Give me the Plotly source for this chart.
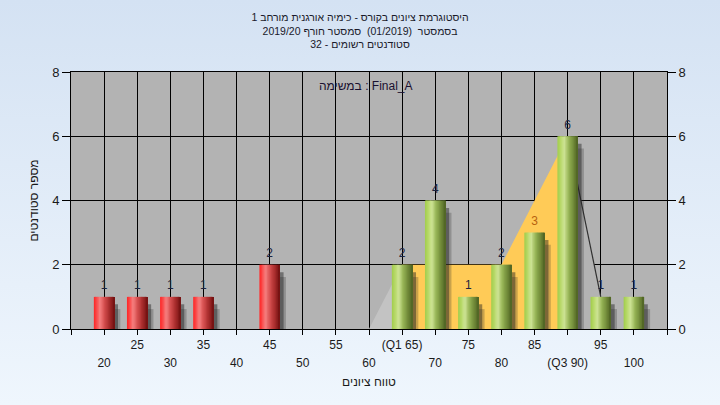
import base64
import plotly.graph_objects as go

# ---------------- data ----------------
categories = [20, 25, 30, 35, 40, 45, 50, 55, 60, 65, 70, 75, 80, 85, 90, 95, 100]
counts = [1, 1, 1, 1, 0, 2, 0, 0, 0, 2, 4, 1, 2, 3, 6, 1, 1]
pass_grade = 55
q1 = 65
q3 = 90
curve_x = [60, 65, 70, 75, 80, 85, 90, 95]
curve_y = [0, 2, 2, 2, 2, 4, 6, 1]
upper_ticks = [25, 35, 45, 55, 65, 75, 85, 95]
lower_ticks = [20, 30, 40, 50, 60, 70, 80, 90, 100]
y_ticks = [0, 2, 4, 6, 8]
title_lines = [
    "היסטוגרמת ציונים בקורס - כימיה אורגנית מורחב 1",
    "בסמסטר  (01/2019)  סמסטר חורף 2019/20",
    "סטודנטים רשומים - 32",
]
task_label = "במשימה : Final_A"
x_title = "טווח ציונים"
y_title = "מספר סטודנטים"

# ---------------- style ----------------
FONT = "Liberation Sans, Arial, sans-serif"
W, H = 720, 405
ML, MR, MT, MB = 71, 53, 72, 76
BAR_W = 3.1
N_STRIPS = 16
red_scale = [(0.0, (255, 35, 35)), (0.12, (250, 70, 70)), (0.3, (245, 128, 128)),
             (0.5, (215, 80, 80)), (0.75, (168, 45, 45)), (1.0, (112, 15, 15))]
green_scale = [(0.0, (160, 205, 75)), (0.15, (182, 216, 102)), (0.33, (206, 228, 150)),
               (0.55, (150, 180, 85)), (0.8, (110, 135, 55)), (1.0, (78, 98, 35))]


def interp(scale, t):
    for (t0, c0), (t1, c1) in zip(scale[:-1], scale[1:]):
        if t0 <= t <= t1:
            f = (t - t0) / (t1 - t0)
            return "rgb(%d,%d,%d)" % tuple(round(a + (b - a) * f) for a, b in zip(c0, c1))
    return "rgb(%d,%d,%d)" % scale[-1][1]


def tick_text(v):
    if v == q1:
        return "(Q1 %d)" % v
    if v == q3:
        return "(Q3 %d)" % v
    return str(v)


bx = [c for c, n in zip(categories, counts) if n > 0]
by = [n for n in counts if n > 0]

fig = go.Figure()

# ---------- distribution area (lower subplot, behind bars) ----------
lo = [(x, y) for x, y in zip(curve_x, curve_y) if x <= q1]
mid = [(x, y) for x, y in zip(curve_x, curve_y) if q1 <= x <= q3]
hi = [(x, y) for x, y in zip(curve_x, curve_y) if x >= q3]
fig.add_scatter(x=[p[0] for p in lo], y=[p[1] for p in lo], mode="lines", fill="tozeroy",
                fillcolor="#c3c3c3", line=dict(width=0), hoverinfo="skip", showlegend=False,
                xaxis="x", yaxis="y")
fig.add_scatter(x=[p[0] for p in mid], y=[p[1] for p in mid], mode="lines", fill="tozeroy",
                fillcolor="#ffcb57", line=dict(width=0), hoverinfo="skip", showlegend=False,
                xaxis="x", yaxis="y")
fig.add_scatter(x=[p[0] for p in hi], y=[p[1] for p in hi], mode="lines", fill="tozeroy",
                fillcolor="#b3b3b3", line=dict(width=1.2, color="#303030"), hoverinfo="skip",
                showlegend=False, xaxis="x", yaxis="y")

# ---------- bar shadows ----------
fig.add_bar(x=bx, y=[v - 0.25 for v in by], base=-0.13, width=BAR_W + 0.3, offset=-BAR_W / 2 + 0.6,
            marker=dict(color="rgba(40,40,40,0.25)", line=dict(width=0)), cliponaxis=False,
            hoverinfo="skip", showlegend=False, xaxis="x", yaxis="y2")
fig.add_bar(x=bx, y=[v - 0.15 for v in by], base=-0.08, width=BAR_W, offset=-BAR_W / 2 + 0.55,
            marker=dict(color="rgba(30,30,30,0.45)", line=dict(width=0)), cliponaxis=False,
            hoverinfo="skip", showlegend=False, xaxis="x", yaxis="y2")

# ---------- gradient bars (vertical strips) ----------
step = BAR_W / N_STRIPS
for i in range(N_STRIPS):
    t = (i + 0.5) / N_STRIPS
    cols = [interp(red_scale, t) if x < pass_grade else interp(green_scale, t) for x in bx]
    fig.add_bar(x=bx, y=by, width=step * (1.7 if i < N_STRIPS - 1 else 1.0),
                offset=-BAR_W / 2 + i * step,
                marker=dict(color=cols, line=dict(width=0)), hoverinfo="skip",
                showlegend=False, xaxis="x", yaxis="y2")

# ---------- value labels ----------
label_cols = ["#b8620f" if (q1 < x < q3 and n == 3) else "#1c2440" for x, n in zip(bx, by)]
fig.add_scatter(x=bx, y=by, mode="markers+text", text=[str(n) for n in by], textposition="top center",
                marker=dict(size=6, opacity=0),
                textfont=dict(family=FONT, size=12, color=label_cols), cliponaxis=False,
                hoverinfo="skip", showlegend=False, xaxis="x", yaxis="y2")

# dummy trace for the second label row axis
fig.add_scatter(x=[categories[0]], y=[0], mode="markers", marker=dict(opacity=0),
                hoverinfo="skip", showlegend=False, xaxis="x2", yaxis="y")

all_ticks = [categories[0] - 5] + categories + [categories[-1] + 5]
xr = [all_ticks[0], all_ticks[-1]]
yr = [y_ticks[0], y_ticks[-1]]

# background gradient for the paper
svg = ('<svg xmlns="http://www.w3.org/2000/svg" width="720" height="405">'
       '<defs><linearGradient id="g" x1="0" y1="0" x2="0" y2="1">'
       '<stop offset="0" stop-color="#d4e2f3"/><stop offset="1" stop-color="#eff6fd"/>'
       '</linearGradient></defs><rect width="720" height="405" fill="url(#g)"/></svg>')
src = "data:image/svg+xml;base64," + base64.b64encode(svg.encode()).decode()
pw, ph = W - ML - MR, H - MT - MB

fig.update_layout(
    width=W, height=H,
    margin=dict(l=ML, r=MR, t=MT, b=MB, autoexpand=False),
    paper_bgcolor="#e3edf8",
    plot_bgcolor="#b3b3b3",
    barmode="overlay",
    font=dict(family=FONT, size=12, color="#1a1a1a"),
    title=dict(text="<br>".join(title_lines), x=0.5, xref="container", xanchor="center",
               y=1 - 21 / H, yref="container", yanchor="top",
               font=dict(family=FONT, size=10.5, color="#1a1a2a")),
    images=[dict(source=src, xref="paper", yref="paper", x=-ML / pw, y=1 + MT / ph,
                 sizex=W / pw, sizey=H / ph, sizing="stretch", xanchor="left", yanchor="top",
                 layer="below")],
    shapes=[dict(type="rect", xref="paper", yref="paper", x0=0, x1=1, y0=0, y1=1,
                 fillcolor="#b3b3b3", line=dict(width=0), layer="below")],
    xaxis=dict(range=xr, tickmode="array", tickvals=all_ticks, automargin=False,
               ticktext=[tick_text(v) if v in upper_ticks else "" for v in all_ticks],
               showgrid=True, gridcolor="#000000", gridwidth=1,
               showline=True, linecolor="#000000", linewidth=1, mirror=True,
               ticks="outside", ticklen=5, tickcolor="#000000",
               tickfont=dict(family=FONT, size=12, color="#1a1a1a"),
               zeroline=False,
               title=dict(text=x_title, standoff=26, font=dict(family=FONT, size=12, color="#1a1a1a"))),
    xaxis2=dict(range=xr, overlaying="x", side="bottom", anchor="y", tickmode="array",
                tickvals=lower_ticks, ticktext=[tick_text(v) for v in lower_ticks], automargin=False,
                showgrid=False, showline=False, ticks="", zeroline=False,
                ticklabelstandoff=25,
                tickfont=dict(family=FONT, size=12, color="#1a1a1a")),
    yaxis=dict(range=yr, tickmode="array", tickvals=y_ticks, automargin=False,
               showgrid=True, gridcolor="#000000", gridwidth=1,
               showline=True, linecolor="#000000", linewidth=1, mirror=True,
               ticks="outside", ticklen=8, tickcolor="#000000", zeroline=False,
               tickfont=dict(family=FONT, size=13, color="#1a1a1a"),
               title=dict(text=y_title, standoff=10, font=dict(family=FONT, size=12, color="#1a1a1a"))),
    yaxis2=dict(range=yr, overlaying="y", side="right", anchor="x", tickmode="array",
                tickvals=y_ticks, showgrid=False, zeroline=False, automargin=False,
                showline=True, linecolor="#000000", linewidth=1,
                ticks="outside", ticklen=8, tickcolor="#000000",
                tickfont=dict(family=FONT, size=13, color="#1a1a1a")),
    annotations=[dict(text=task_label, x=0.5, y=1 - (86 - MT) / ph, xshift=-3,
                      xref="paper", yref="paper", xanchor="center", yanchor="middle",
                      showarrow=False, font=dict(family=FONT, size=12, color="#1a1030"))],
)

fig.write_html("out.html", config={"displayModeBar": False},
               post_script="document.body.style.margin='0';")
